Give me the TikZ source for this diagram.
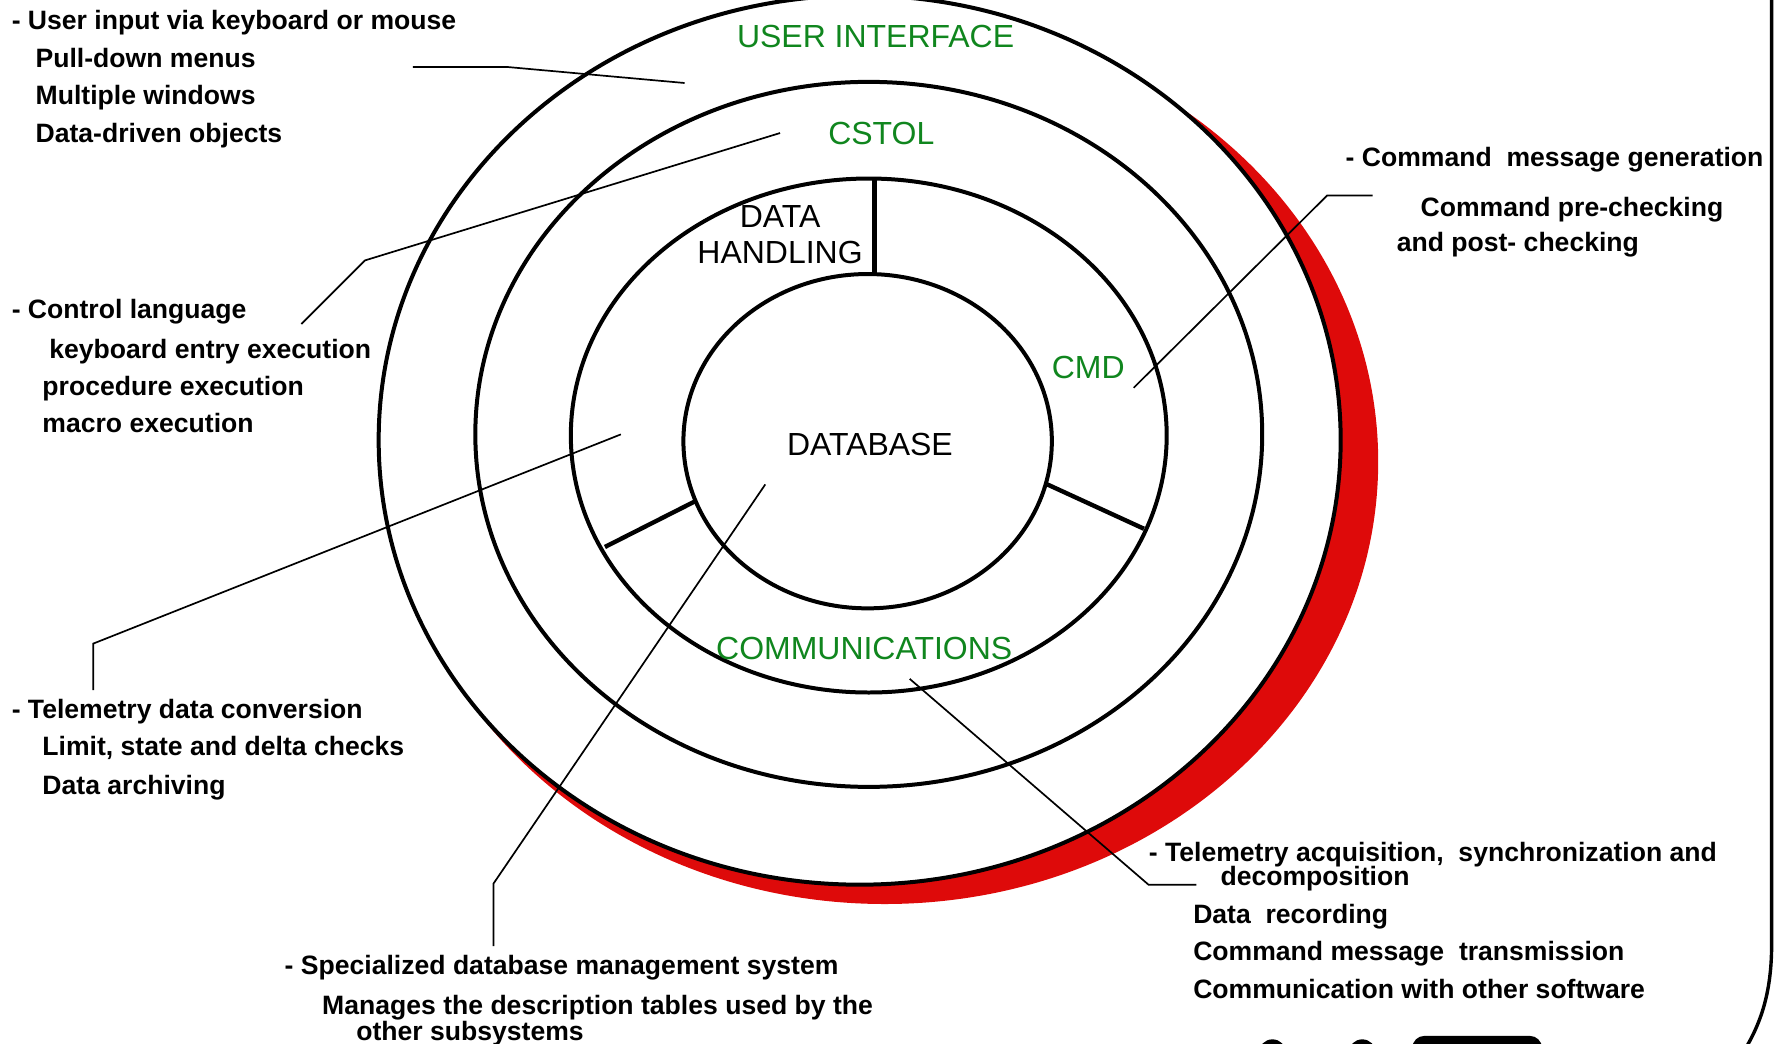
\documentclass[tikz,border=0pt]{standalone}
\usepackage{fontspec}
\setmainfont{Liberation Sans}
\definecolor{labelgreen}{RGB}{16,134,30}
\definecolor{shadowred}{RGB}{222,10,10}
\newcommand{\notefont}{\bfseries\fontsize{13.3}{16}\selectfont}
\newcommand{\layerfont}{\fontsize{16}{18}\selectfont}

\begin{document}
\begin{tikzpicture}[x=0.02cm, y=-0.02cm, anchor=center,
	ring/.style={line width=2pt},
	divider/.style={line width=2.2pt},
	lead/.style={line width=0.85pt},
	layer/.style={font=\layerfont, text=labelgreen, inner sep=0pt},
	note/.style={font=\notefont, anchor=base west, inner sep=0pt}]

		\useasboundingbox (0,0) rectangle (1568,918);

		\fill[shadowred] (778,406) ellipse [x radius=434, y radius=389];
		\filldraw[ring, fill=white] (756,387) ellipse [x radius=423, y radius=391];
		\draw[ring] (764,382) ellipse [x radius=346, y radius=310];
		\draw[ring] (764,383) ellipse [x radius=262, y radius=226];
		\draw[ring] (763,388) ellipse [x radius=162, y radius=147];

		\draw[divider] (769,157) -- (769,242);
		\draw[divider] (921,426) -- (1006,465);
		\draw[divider] (611,441) -- (532,481);

		\node[layer] (ui) at (770,32) {USER INTERFACE};
		\node[layer] (cstol) at (775,117) {CSTOL};
		\node[layer, text=black, align=center] (dh) at (686,206) {DATA\\HANDLING};
		\node[layer] (cmd) at (957,323) {CMD};
		\node[layer, text=black] (db) at (765,391) {DATABASE};
		\node[layer] (comm) at (760,570) {COMMUNICATIONS};

		\node[note] (ui1) at (10,26) {- User input via keyboard or mouse};
		\node[note] (ui2) at (31,59) {Pull-down menus};
		\node[note] (ui3) at (31,92) {Multiple windows};
		\node[note] (ui4) at (31,125) {Data-driven objects};

		\node[note] (cl1) at (10,280) {- Control language};
		\node[note] (cl2) at (43,315) {keyboard entry execution};
		\node[note] (cl3) at (37,348) {procedure execution};
		\node[note] (cl4) at (37,380) {macro execution};

		\node[note] (tm1) at (10,632) {- Telemetry data conversion};
		\node[note] (tm2) at (37,664) {Limit, state and delta checks};
		\node[note] (tm3) at (37,699) {Data archiving};

		\node[note] (sd1) at (250,857) {- Specialized database management system};
		\node[note] (sd2) at (283,892) {Manages the description tables used by the};
		\node[note] (sd3) at (313,915) {other subsystems};

		\node[note] (cg1) at (1183,146) {- Command~ message generation};
		\node[note] (cg2) at (1249,190) {Command pre-checking};
		\node[note] (cg3) at (1228,221) {and post- checking};

		\node[note] (ta1) at (1010,758) {- Telemetry acquisition,~ synchronization and};
		\node[note] (ta2) at (1073,779) {decomposition};
		\node[note] (ta3) at (1049,812) {Data~ recording};
		\node[note] (ta4) at (1049,845) {Command message~ transmission};
		\node[note] (ta5) at (1049,878) {Communication with other software};

		\coordinate (ui-in) at (602,73);
		\coordinate (ui-k) at (447,59);
		\coordinate (ui-out) at (363,59);
		\coordinate (cstol-in) at (686,117);
		\coordinate (cstol-k) at (321,229);
		\coordinate (cstol-out) at (265,285);
		\coordinate (cmd-in) at (997,341);
		\coordinate (cmd-k) at (1167,172);
		\coordinate (cmd-out) at (1207,172);
		\coordinate (dh-in) at (546,382);
		\coordinate (dh-k) at (82,566);
		\coordinate (dh-out) at (82,607);
		\coordinate (db-in) at (673,426);
		\coordinate (db-k) at (434,777);
		\coordinate (db-out) at (434,832);
		\coordinate (comm-in) at (800,597);
		\coordinate (comm-k) at (1010,778);
		\coordinate (comm-out) at (1052,778);

		\draw[lead] (ui-in) -- (ui-k) -- (ui-out);
		\draw[lead] (cstol-in) -- (cstol-k) -- (cstol-out);
		\draw[lead] (cmd-in) -- (cmd-k) -- (cmd-out);
		\draw[lead] (dh-in) -- (dh-k) -- (dh-out);
		\draw[lead] (db-in) -- (db-k) -- (db-out);
		\draw[lead] (comm-in) -- (comm-k) -- (comm-out);

		\draw[line width=1.7pt] (1558,-10) -- (1558,830) .. controls (1558,870) and (1550,900) .. (1530,930);
		\fill[rounded corners=6pt] (1242,911) rectangle (1356,940);
		\fill (1119,926) circle [radius=12];
		\fill (1198,926) circle [radius=12];

\end{tikzpicture}
\end{document}
